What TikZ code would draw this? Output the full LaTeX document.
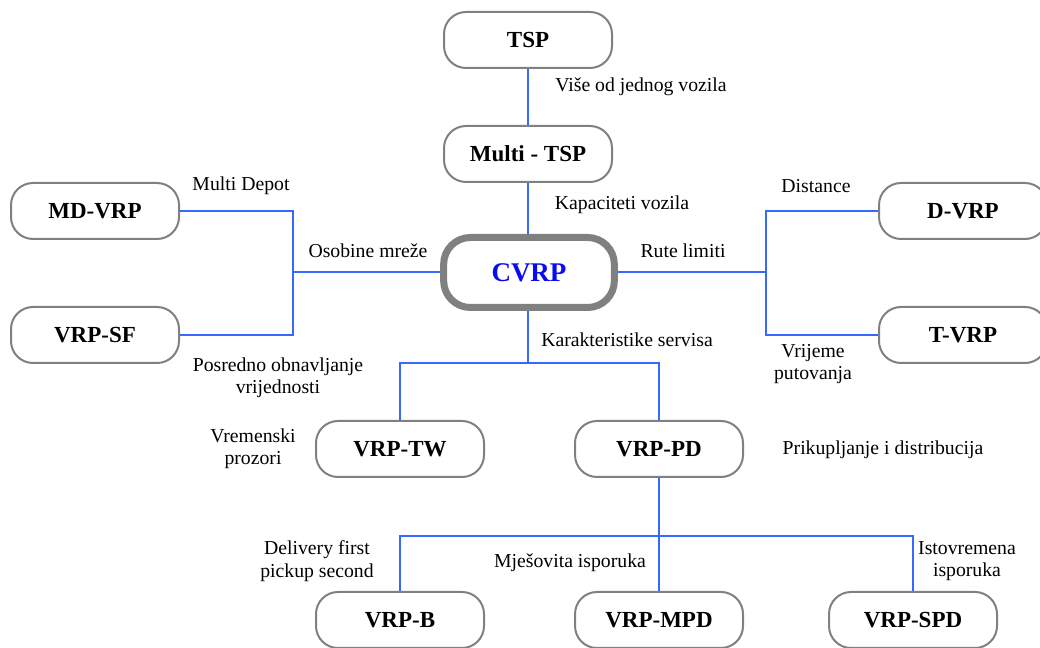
\documentclass[tikz,border=0pt]{standalone}
\usepackage{fontspec}
\setmainfont{Liberation Serif}
\definecolor{linkblue}{RGB}{55,105,255}
\definecolor{boxgray}{RGB}{128,128,128}
\definecolor{titleblue}{RGB}{10,10,245}
\tikzset{
  link/.style={draw=linkblue, line width=1.5pt},
  probbox/.style={draw=boxgray, line width=1.5pt, rounded corners=16.5pt,
    minimum width=126pt, minimum height=42pt, inner sep=0pt, fill=white,
    font=\fontsize{17.25}{20}\selectfont\bfseries},
  corebox/.style={draw=boxgray, line width=5.25pt, rounded corners=20pt,
    minimum width=128pt, minimum height=52.5pt, inner sep=0pt, fill=white,
    text=titleblue, font=\fontsize{20.25}{24}\selectfont\bfseries},
  lbl/.style={inner sep=0pt, align=center, font=\fontsize{14.8}{16.8}\selectfont}
}
\begin{document}
\begin{tikzpicture}[x=0.75pt, y=-0.75pt]
\useasboundingbox (0,0) rectangle (1040,648);
\clip (0,0) rectangle (1040,648);

% problem nodes
\node[probbox] (tsp)   at (528,40)    {TSP};
\node[probbox] (mtsp)  at (528,154)   {Multi - TSP};
\node[corebox] (cvrp)  at (529,272.5) {CVRP};
\node[probbox] (md)    at (95,211)    {MD-VRP};
\node[probbox] (sf)    at (95,335)    {VRP-SF};
\node[probbox] (dv)    at (963,211)   {D-VRP};
\node[probbox] (tv)    at (963,335)   {T-VRP};
\node[probbox] (tw)    at (400,449)   {VRP-TW};
\node[probbox] (pd)    at (659,449)   {VRP-PD};
\node[probbox] (vb)    at (400,620)   {VRP-B};
\node[probbox] (mpd)   at (659,620)   {VRP-MPD};
\node[probbox] (spd)   at (913,620)   {VRP-SPD};

% branching points
\coordinate (jl) at (293,272.5);
\coordinate (jr) at (766,272.5);
\coordinate (jd) at (528,363);
\coordinate (jb) at (659,536);

% connectors
\draw[link] (tsp.south) -- (mtsp.north);
\draw[link] (mtsp.south) -- (mtsp.south |- cvrp.north);
\draw[link] (cvrp.west) -- (jl);
\draw[link] (md.east) -| (jl) |- (sf.east);
\draw[link] (cvrp.east) -- (jr);
\draw[link] (dv.west) -| (jr) |- (tv.west);
\draw[link] (mtsp.south |- cvrp.south) -- (jd);
\draw[link] (jd) -| (tw.north);
\draw[link] (jd) -| (pd.north);
\draw[link] (pd.south) -- (jb);
\draw[link] (jb) -| (vb.north);
\draw[link] (jb) -| (spd.north);
\draw[link] (jb) -- (mpd.north);

% labels
\node[lbl] (l1)  at (641,87)  {Više od jednog vozila};
\node[lbl] (l2)  at (622,205) {Kapaciteti vozila};
\node[lbl] (l3)  at (241,186) {Multi Depot};
\node[lbl] (l4)  at (368,251) {Osobine mreže};
\node[lbl] (l5)  at (278,378) {Posredno obnavljanje\\vrijednosti};
\node[lbl] (l6)  at (683,251) {Rute limiti};
\node[lbl] (l7)  at (816,186) {Distance};
\node[lbl] (l8)  at (813,364) {Vrijeme\\putovanja};
\node[lbl] (l9)  at (627,340) {Karakteristike servisa};
\node[lbl] (l10) at (253,449) {Vremenski\\prozori};
\node[lbl] (l11) at (883,450) {Prikupljanje i distribucija};
\node[lbl] (l12) at (317,561) {Delivery first\\pickup second};
\node[lbl] (l13) at (570,563) {Mješovita isporuka};
\node[lbl] (l14) at (967,561) {Istovremena\\isporuka};
\end{tikzpicture}
\end{document}
